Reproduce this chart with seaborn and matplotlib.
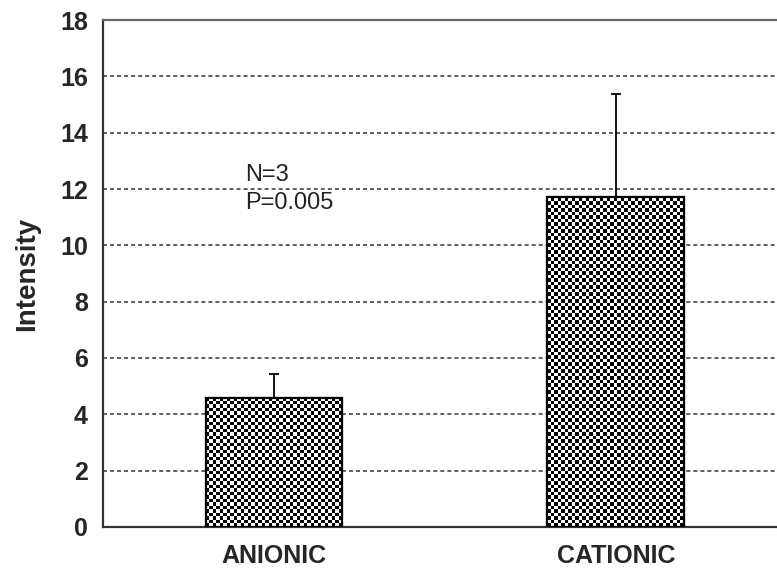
import numpy as np
import pandas as pd
import matplotlib
matplotlib.use("Agg")
import matplotlib.pyplot as plt
import seaborn as sns

# values
categories = ["ANIONIC", "CATIONIC"]
intensity = [4.58, 11.72]
err_upper = [0.85, 3.65]
yticks = [0, 2, 4, 6, 8, 10, 12, 14, 16, 18]

data = pd.DataFrame({"Type": categories, "Intensity": intensity})

sns.set_style("white")
plt.rcParams["font.family"] = ["Liberation Sans", "DejaVu Sans"]

fig = plt.figure(figsize=(7.77, 5.75), dpi=100)
ax = fig.add_axes([0.1326, 0.0835, 0.880, 0.8817])

sns.barplot(x="Type", y="Intensity", data=data, ax=ax, width=0.40,
            color="white", edgecolor="black", linewidth=1.5, zorder=3)

ax.set_xlim(-0.5, 1.5)
ax.set_ylim(0, 18)

# checkerboard fill, clipped to each bar (cell size in pixels)
cell = 3.5
px_x = 2.0 / (0.880 * 777)   # data units per pixel, x
px_y = 18.0 / (0.8817 * 575)  # data units per pixel, y
for patch in list(ax.patches):
    x0, y0 = patch.get_x(), patch.get_y()
    w, h = patch.get_width(), patch.get_height()
    nx = int(np.ceil(w / (cell * px_x)))
    ny = int(np.ceil(h / (cell * px_y)))
    xs = x0 + np.arange(nx + 1) * cell * px_x
    ys = y0 + np.arange(ny + 1) * cell * px_y
    board = np.add.outer(np.arange(ny), np.arange(nx)) % 2
    mesh = ax.pcolormesh(xs, ys, board, cmap="gray", vmin=0, vmax=1,
                         shading="flat", zorder=3.5, antialiased=False)
    mesh.set_clip_path(patch)
    edge = plt.Rectangle((x0, y0), w, h, fill=False, edgecolor="black",
                         linewidth=1.6, zorder=4)
    ax.add_patch(edge)

# upper-only error bars
xpos = np.arange(len(categories))
ax.errorbar(xpos, intensity, yerr=[np.zeros(len(err_upper)), err_upper],
            fmt="none", ecolor="black", elinewidth=1.3, capsize=3.5,
            capthick=1.3, zorder=2.5)

ax.set_yticks(yticks)
ax.yaxis.grid(True, linestyle=(0, (2.6, 2.0)), color="#333333", linewidth=1.1)
ax.set_axisbelow(True)

ax.set_xticks(xpos)
ax.set_xticklabels(categories, fontsize=18, fontweight="bold")
ax.set_xticks([0.5], minor=True)
ax.tick_params(axis="x", which="major", length=0, pad=12)
ax.tick_params(axis="x", which="minor", length=6, width=1.0, color="#444444",
               direction="out")
ax.tick_params(axis="y", length=5, width=1.0, color="#444444", direction="out",
               labelsize=18, pad=6)
for lab in ax.get_yticklabels():
    lab.set_fontweight("bold")

ax.set_xlabel("")
ax.set_ylabel("Intensity", fontsize=20, fontweight="bold", labelpad=14)

for side in ["left", "bottom"]:
    ax.spines[side].set_color("#333333")
    ax.spines[side].set_linewidth(1.6)
ax.spines["top"].set_color("#666666")
ax.spines["top"].set_linewidth(1.6)
ax.spines["right"].set_visible(False)

ax.text(-0.085, 12.0, "N=3\nP=0.005", fontsize=17, va="center", ha="left",
        linespacing=1.3, color="#222222")

fig.savefig("out.png", dpi=100)
